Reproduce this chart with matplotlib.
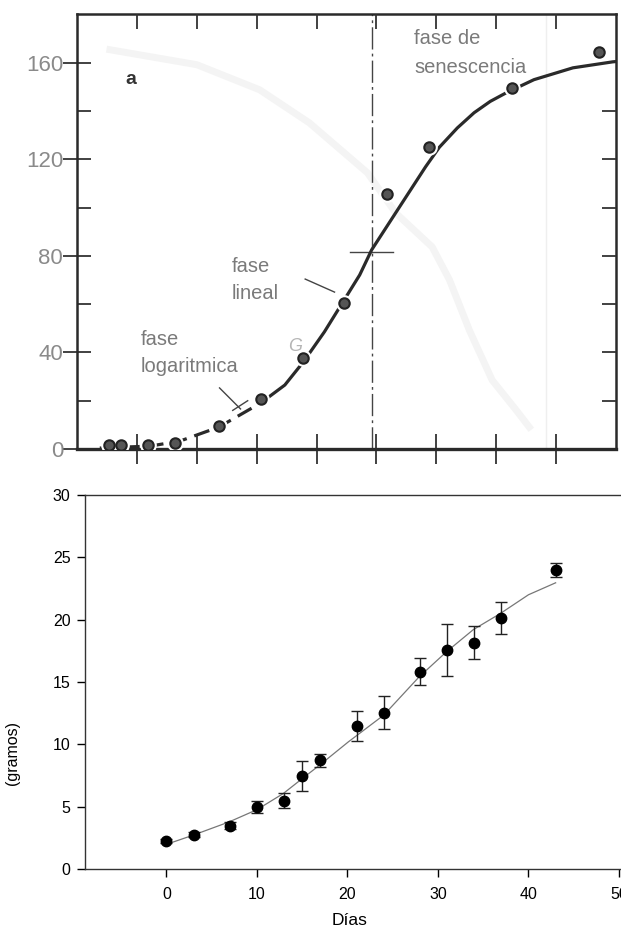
import matplotlib
matplotlib.use('Agg')
import matplotlib.pyplot as plt

plt.rcParams['font.family'] = ['Liberation Sans', 'DejaVu Sans']

# ---- panel a (libro): crecimiento sigmoide ----
dias_a = [5.3, 7.3, 11.8, 16.3, 23.7, 30.7, 37.7, 44.5, 51.7, 58.7, 72.7, 87.2]
peso_a = [1.7, 1.7, 1.7, 2.5, 9.5, 20.7, 37.7, 60.5, 105.7, 125.2, 149.6, 164.6]

curva_a_x = [3.8, 12.2, 17.2, 23.7, 30.7, 34.7, 37.8, 41.3, 44.3, 47.2, 49.2, 53.2,
             58.2, 60.5, 63.5, 66.3, 69.0, 71.7, 76.3, 82.8, 89.5, 90.0]
curva_a_y = [0.4, 1.2, 3.3, 9.1, 19.1, 26.5, 36.1, 48.5, 60.5, 72.1, 82.5, 97.8,
             116.9, 125.0, 133.0, 139.3, 144.0, 147.6, 153.0, 157.9, 160.4, 160.5]

# curva fantasma (transparencia de la pagina escaneada)
fantasma_x = [5.5, 20.0, 30.5, 38.8, 48.5, 53.2, 59.3, 62.2, 65.5, 69.3, 73.3, 75.5]
fantasma_y = [165.4, 159.2, 148.8, 135.1, 114.4, 97.8, 83.7, 70.0, 49.3, 28.6, 16.2, 9.1]

yticks_a = [0, 40, 80, 120, 160]

# ---- panel inferior: datos propios ----
dias = [0, 3, 7, 10, 13, 15, 17, 21, 24, 28, 31, 34, 37, 43]
gramos = [2.25, 2.76, 3.45, 4.98, 5.46, 7.44, 8.72, 11.5, 12.55, 15.84, 17.55, 18.17, 20.15, 23.98]
error = [0.15, 0.2, 0.28, 0.47, 0.6, 1.2, 0.5, 1.2, 1.35, 1.1, 2.1, 1.3, 1.3, 0.55]

ajuste_x = [0, 2.9, 6.9, 10, 12.9, 15, 16.9, 20.1, 24, 27.9, 30.9, 33.9, 36.9, 40, 43]
ajuste_y = [1.98, 2.7, 3.77, 4.76, 6.05, 7.25, 8.32, 10.2, 12.34, 15.4, 17.4, 19.2, 20.5, 22.0, 22.96]

fig = plt.figure(figsize=(6.21, 9.30), dpi=100)

# ================= panel superior =================
ax = fig.add_axes([0.124, 0.5172, 0.868, 0.468])
ax.set_xlim(0, 90)
ax.set_ylim(0, 180.3)

ax.plot(fantasma_x, fantasma_y, color='#f4f4f4', lw=5, zorder=1)
ax.axvline(78.3, color='#efefef', lw=1, zorder=1)

# vertical discontinua y cruz
ax.axvline(49.2, color='#444', lw=1, ls=(0, (16, 3, 2, 3)), zorder=2)
ax.plot([45.5, 52.7], [81.7, 81.7], color='#444', lw=1, zorder=2)

# curva: tramo bajo discontinuo, resto continuo
n = 5
ax.plot(curva_a_x[:n], curva_a_y[:n], color='#2a2a2a', lw=2.3, ls=(0, (5, 2.5)), zorder=3)
ax.plot(curva_a_x[n - 1:], curva_a_y[n - 1:], color='#2a2a2a', lw=2.3, zorder=3)

ax.plot(dias_a, peso_a, 'o', ms=11, color='white', zorder=4)
ax.plot(dias_a, peso_a, 'o', ms=7.5, mfc='#555', mec='#222', mew=1.5, zorder=5)

# anotaciones
ax.plot([38.1, 43.0], [70.4, 65.0], color='#444', lw=1)
ax.plot([23.8, 27.3], [25.3, 16.6], color='#444', lw=1)
ax.plot([26.0, 28.5], [16.0, 20.0], color='#444', lw=1)

gris = '#7a7a7a'
ax.text(8.0, 153, 'a', fontsize=14, fontweight='bold', color='#333', va='center')
ax.text(56.3, 170.2, 'fase de', fontsize=14.5, color=gris, va='center')
ax.text(56.3, 158.2, 'senescencia', fontsize=14.5, color=gris, va='center')
ax.text(25.8, 75.5, 'fase', fontsize=14.5, color=gris, va='center')
ax.text(25.8, 64.5, 'lineal', fontsize=14.5, color=gris, va='center')
ax.text(10.6, 45.5, 'fase', fontsize=14.5, color=gris, va='center')
ax.text(10.6, 34.0, 'logaritmica', fontsize=14.5, color=gris, va='center')
ax.text(35.3, 42.3, 'G', fontsize=13, color='#b5b5b5', style='italic', va='center')

for s in ax.spines.values():
    s.set_color('#2a2a2a')
    s.set_linewidth(1.8)
ax.spines['bottom'].set_linewidth(2.4)

ax.set_yticks(yticks_a)
ax.set_yticks([20, 60, 100, 140], minor=True)
ax.set_xticks(range(10, 90, 10))
ax.set_xticklabels([])
ax.tick_params(axis='y', which='major', direction='inout', length=20, width=1.3,
               color='#333', labelcolor='#8a8a8a', labelsize=16, pad=0, right=False)
ax.tick_params(axis='y', which='minor', direction='in', length=10, width=1.3, color='#333')
ax.tick_params(axis='x', direction='inout', length=22, width=1.3, color='#333', top=False)
ax.set_yticklabels([str(v) for v in yticks_a])

# marcas internas del eje derecho
axr = ax.twinx()
axr.set_ylim(0, 180.3)
axr.set_yticks(range(20, 160, 20))
axr.set_yticklabels([])
axr.tick_params(direction='in', length=10, width=1.3, color='#333')
for s in axr.spines.values():
    s.set_visible(False)

# marcas internas del eje superior
axt = ax.twiny()
axt.set_xlim(0, 90)
axt.set_xticks(range(10, 90, 10))
axt.set_xticklabels([])
axt.tick_params(direction='in', length=11, width=1.3, color='#333')
for s in axt.spines.values():
    s.set_visible(False)

# ================= panel inferior =================
ax2 = fig.add_axes([0.1369, 0.0656, 0.889, 0.4021])
ax2.set_xlim(-9, 52)
ax2.set_ylim(0, 30)

ax2.plot(ajuste_x, ajuste_y, color='#777', lw=0.9, zorder=2)
ax2.errorbar(dias, gramos, yerr=error, fmt='o', ms=7.5, color='black', ecolor='#222',
             elinewidth=1, capsize=4.5, capthick=1, zorder=3)

ax2.spines['right'].set_visible(False)
for s in ax2.spines.values():
    s.set_color('#333')
    s.set_linewidth(1)
ax2.set_xticks([0, 10, 20, 30, 40, 50])
ax2.set_yticks([0, 5, 10, 15, 20, 25, 30])
ax2.tick_params(direction='out', length=6, width=1, labelsize=11.5, pad=7)
ax2.tick_params(axis='y', pad=4.5)
fig.text(0.5636, 0.0025, 'Días', fontsize=12.5, ha='center', va='bottom')
fig.text(0.02, 0.19, '(gramos)', rotation=90, fontsize=11.5, va='center', ha='center')

fig.savefig('out.png', dpi=100)
